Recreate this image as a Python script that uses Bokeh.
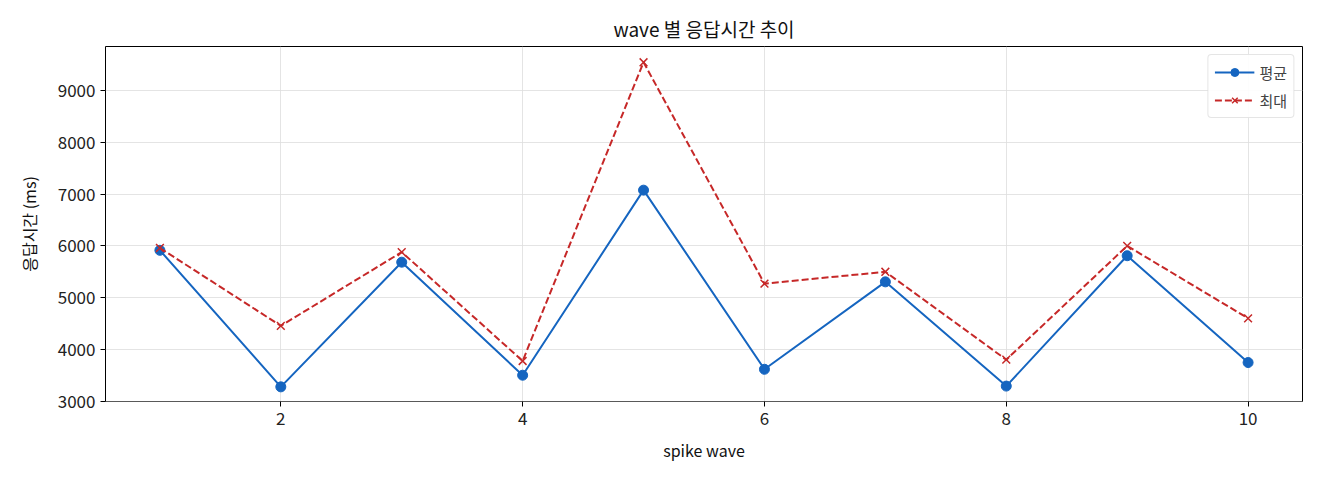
import numpy as np
from bokeh.plotting import figure
from bokeh.models import Range1d, FixedTicker
from bokeh.embed import file_html
from bokeh.resources import INLINE

FONT = "Noto Sans CJK KR"

waves = [1, 2, 3, 4, 5, 6, 7, 8, 9, 10]
avg_ms = [5915, 3275, 5685, 3500, 7078, 3615, 5305, 3290, 5810, 3745]
max_ms = [5960, 4455, 5880, 3775, 9550, 5270, 5500, 3800, 6000, 4600]
y_ticks = [3000, 4000, 5000, 6000, 7000, 8000, 9000]
x_ticks = [2, 4, 6, 8, 10]

BLUE = "#1565c0"
RED = "#c62828"

p = figure(width=1304, height=464, output_backend="svg", toolbar_location=None,
           title="wave 별 응답시간 추이", x_axis_label="spike wave", y_axis_label="응답시간 (ms)",
           min_border_left=105, min_border_right=2, min_border_top=46, min_border_bottom=62)
p.x_range = Range1d(0.55, 10.45)
p.y_range = Range1d(2992, 9855)

p.line(waves, avg_ms, line_color=BLUE, line_width=2, legend_label="평균")
p.scatter(waves, avg_ms, marker="circle", size=10, fill_color=BLUE, line_color=BLUE, legend_label="평균")

p.line(waves, max_ms, line_color=RED, line_width=2, line_dash="7 3", legend_label="최대")
p.scatter(waves, max_ms, marker="x", size=11, line_color=RED, line_width=1.5, legend_label="최대")

p.title.align = "center"
p.title.text_font = FONT
p.title.text_font_size = "19px"
p.title.text_font_style = "normal"
p.title.text_color = "#111111"
p.title.offset = 0

for ax in [p.xaxis[0], p.yaxis[0]]:
    ax.axis_label_text_font = FONT
    ax.axis_label_text_font_size = "16px"
    ax.axis_label_text_font_style = "normal"
    ax.axis_label_text_color = "#111111"
    ax.major_label_text_font = FONT
    ax.major_label_text_font_size = "17px"
    ax.major_label_text_color = "#222222"
    ax.minor_tick_line_color = None
    ax.major_tick_out = 5
    ax.major_tick_in = 0
    ax.axis_line_color = None
    ax.major_tick_line_color = "black"

p.xaxis.axis_label_standoff = 10
p.yaxis.axis_label_standoff = 14
p.yaxis.major_label_standoff = 5

p.xaxis.ticker = FixedTicker(ticks=x_ticks)
p.yaxis.ticker = FixedTicker(ticks=y_ticks)

p.xgrid.ticker = FixedTicker(ticks=x_ticks)
p.ygrid.ticker = FixedTicker(ticks=y_ticks)
p.grid.grid_line_color = "#dddddd"
p.grid.grid_line_alpha = 0.8

p.outline_line_color = "black"
p.outline_line_width = 1
p.outline_line_alpha = 1

p.legend.location = "top_right"
p.legend.label_text_font = FONT
p.legend.label_text_font_size = "15px"
p.legend.border_line_color = "#cccccc"
p.legend.border_radius = 4
p.legend.background_fill_alpha = 0.9
p.legend.glyph_width = 40
p.legend.label_height = 22
p.legend.spacing = 6
p.legend.padding = 6
p.legend.margin = 8

open("out.html", "w").write(file_html(p, INLINE))
